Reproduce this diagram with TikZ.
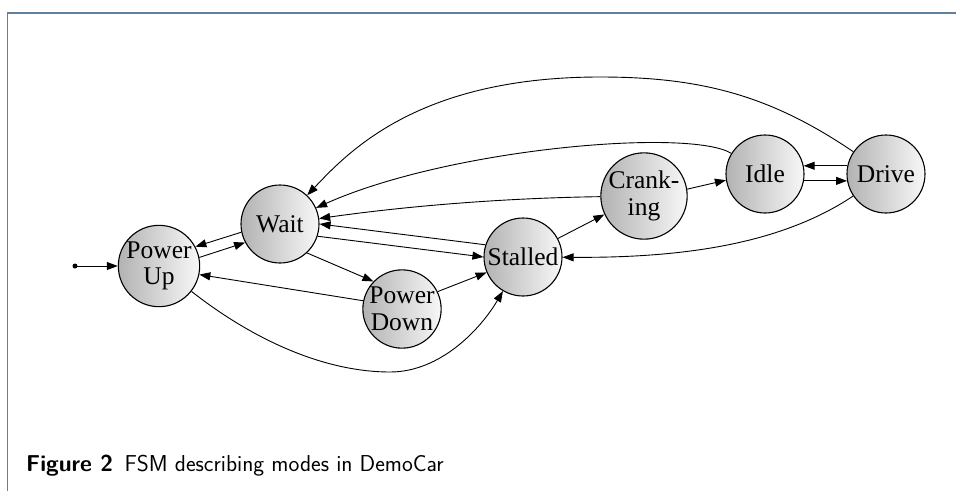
\documentclass[tikz,border=0pt]{standalone}
\usepackage{fontspec}
\setmainfont{Liberation Serif}
\usetikzlibrary{arrows.meta}
\definecolor{framec}{RGB}{96,128,162}
\tikzset{
  state/.style={circle, draw, line width=1.1pt, minimum size=78pt, inner sep=0pt,
    align=center, font=\fontsize{25.5}{26.5}\selectfont,
    left color=black!30, right color=black!3},
  edge/.style={line width=0.9pt, -{Triangle[length=11pt,width=8pt]}},
  framestyle/.style={framec, line width=1.5pt},
  captext/.style={anchor=base west, inner sep=0pt, font=\sffamily\fontsize{23}{26}\selectfont}
}
\begin{document}
\begin{tikzpicture}[x=1pt,y=-1pt]
\useasboundingbox (0,0) rectangle (956,491);
\draw[framestyle] (7.5,491) -- (7.5,13) -- (956,13);

\node[state] (pu) at (159,266) {Power\\Up};
\node[state] (w)  at (280,224) {Wait};
\node[state] (pd) at (402,309) {Power\\Down};
\node[state] (st) at (523,257) {Stalled};
\node[state] (cr) at (644,196) {Crank-\\ing};
\node[state] (id) at (765,174) {Idle};
\node[state] (dr) at (886,174) {Drive};

\coordinate (init) at (75,266);
\fill (init) circle (2.5pt);
\draw[edge] (init) -- (pu);

\draw[edge] (pu.12) -- (w.208);
\draw[edge] (w.192) -- (pu.28);
\draw[edge] (w.-47) -- (pd.136);
\draw[edge] (pd.168) -- (pu.-12);
\draw[edge] (pd.26) -- (st.203);
\draw[edge] (w.-18) -- (st.180);
\draw[edge] (st.162) -- (w.0);
\draw[edge] (st.28) -- (cr.205);
\draw[edge] (cr) .. controls (510,198) and (415,205) .. (w);
\draw[edge] (cr.9) -- (id.189);
\draw[edge] (id.-10) -- (dr.190);
\draw[edge] (dr.168) -- (id.12);
\draw[edge] (id) .. controls (690,128) and (450,148) .. (w);
\draw[edge] (dr) .. controls (770,95) and (700,77) .. (600,77)
                 .. controls (420,77) and (350,150) .. (w);
\draw[edge] (dr) .. controls (780,245) and (680,258) .. (st);
\draw[edge] (pu) .. controls (260,345) and (330,372) .. (390,372)
                 .. controls (440,372) and (480,330) .. (st);

\node[captext] (cap) at (26,471) {\textbf{Figure 2}\hspace{0.5em}FSM describing modes in DemoCar};
\end{tikzpicture}
\end{document}
